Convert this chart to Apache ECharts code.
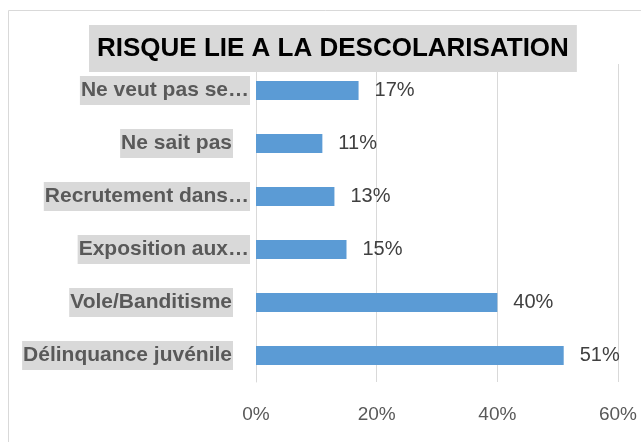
<!DOCTYPE html>
<html>
<head>
<meta charset="utf-8">
<script src="https://cdn.jsdelivr.net/npm/echarts@6/dist/echarts.min.js"></script>
<style>
  html, body { margin: 0; padding: 0; background: #fff; }
  #chart { width: 641px; height: 442px; }
</style>
</head>
<body>
<div id="chart"></div>
<script>
// categories top to bottom
const categories = ['Ne veut pas se…', 'Ne sait pas', 'Recrutement dans…', 'Exposition aux…', 'Vole/Banditisme', 'Délinquance juvénile'];
const values = [17, 11, 13, 15, 40, 51];
const truncated = [true, false, true, true, false, false];
const xTicks = [0, 20, 40, 60];

const font = "'Liberation Sans Narrow', 'Liberation Sans', sans-serif";

let chart = echarts.init(document.getElementById('chart'), null, { renderer: 'canvas' });

let option = {
  animation: false,
  graphic: [
    {
      type: 'rect',
      left: 6, top: 8,
      shape: { width: 660, height: 460 },
      style: { fill: 'none', stroke: '#d9d9d9', lineWidth: 1 },
      z: -1
    }
  ],
  title: {
    text: 'RISQUE LIE A LA DESCOLARISATION',
    left: 89,
    top: 25,
    padding: [11, 8, 10, 8],
    backgroundColor: '#d9d9d9',
    textStyle: {
      fontFamily: font,
      fontWeight: 'bold',
      fontSize: 26,
      lineHeight: 26,
      color: '#000'
    }
  },
  grid: {
    left: 256,
    right: 23,
    top: 64,
    bottom: 60,
    containLabel: false
  },
  xAxis: {
    type: 'value',
    min: xTicks[0],
    max: xTicks[xTicks.length - 1],
    interval: 20,
    axisLine: { show: false },
    axisTick: { show: false },
    splitLine: { lineStyle: { color: '#d9d9d9', width: 1 } },
    axisLabel: {
      formatter: v => v + '%',
      fontFamily: font,
      fontSize: 19,
      color: '#595959',
      margin: 23
    }
  },
  yAxis: {
    type: 'category',
    inverse: true,
    data: categories,
    axisLine: { lineStyle: { color: '#d9d9d9' } },
    axisTick: { show: false },
    axisLabel: {
      margin: 6,
      formatter: (v, i) => truncated[i] ? '{a|' + v + '}' : '{a|' + v + '}{s|}',
      rich: {
        a: {
          fontFamily: font,
          fontWeight: 'bold',
          fontSize: 21,
          lineHeight: 21,
          color: '#595959',
          backgroundColor: '#d9d9d9',
          padding: [4, 1, 4, 1]
        },
        s: { width: 17 }
      }
    }
  },
  series: [
    {
      type: 'bar',
      data: values,
      barWidth: 19,
      itemStyle: { color: '#5b9bd5' },
      label: {
        show: true,
        position: 'right',
        distance: 16,
        formatter: p => p.value + '%',
        fontFamily: font,
        fontSize: 20,
        color: '#404040'
      }
    }
  ]
};

chart.setOption(option);
</script>
</body>
</html>
